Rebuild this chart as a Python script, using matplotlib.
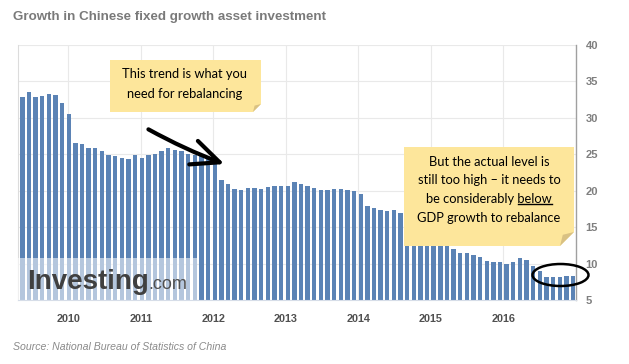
import matplotlib
matplotlib.use("Agg")
import matplotlib.pyplot as plt
from matplotlib.patches import Polygon, Ellipse, Rectangle
import numpy as np

# ---------------- data ----------------
v2009 = [32.9, 33.6, 32.9, 33.0, 33.3, 33.1, 32.1, 30.5]
v2010 = [26.6, 26.4, 25.8, 25.9, 25.5, 24.9, 24.8, 24.5, 24.4, 24.9, 24.5]
v2011 = [24.9, 25.0, 25.4, 25.8, 25.6, 25.4, 25.0, 24.9, 24.9, 24.5, 23.8]
v2012 = [21.5, 20.9, 20.2, 20.1, 20.4, 20.4, 20.2, 20.5, 20.7, 20.7, 20.6]
v2013 = [21.2, 20.9, 20.6, 20.4, 20.1, 20.1, 20.3, 20.2, 20.1, 19.9, 19.6]
v2014 = [17.9, 17.6, 17.3, 17.2, 17.3, 17.0, 16.5, 16.1, 15.9, 15.8, 15.7]
v2015 = [13.9, 13.5, 12.0, 11.4, 11.4, 11.2, 10.9, 10.3, 10.2, 10.2, 10.0]
v2016 = [10.2, 10.7, 10.5, 9.6, 9.0, 8.1, 8.1, 8.2, 8.3, 8.3]
values = v2009 + v2010 + v2011 + v2012 + v2013 + v2014 + v2015 + v2016
year_labels = ["2010", "2011", "2012", "2013", "2014", "2015", "2016"]
y_ticks = [5, 10, 15, 20, 25, 30, 35, 40]

title = "Growth in Chinese fixed growth asset investment"
source = "Source: National Bureau of Statistics of China"
note1_lines = ["This trend is what you", "need for rebalancing"]
note2_lines = ["But the actual level is", "still too high \u2013 it needs to",
               "be considerably below", "GDP growth to rebalance"]

# ---------------- figure ----------------
W, H = 629, 364
fig = plt.figure(figsize=(W / 100, H / 100), dpi=100)
fig.patch.set_facecolor("white")


def P(px, py):
    return (px / W, 1 - py / H)


ax = fig.add_axes([18 / W, 1 - 300 / H, 558 / W, 255 / H])
x = np.arange(len(values))
ax.bar(x, values, width=0.66, color="#5b83b5", zorder=2)
ax.set_xlim(-0.65, 83.45)
ax.set_ylim(5, 40)
ax.set_yticks(y_ticks)
ax.yaxis.tick_right()
year_pos = 6.94 + 10.93 * np.arange(len(year_labels))
ax.set_xticks(year_pos)
ax.set_xticklabels(year_labels)
ax.tick_params(axis="y", length=0, pad=7, labelsize=8, labelcolor="#7f7f7f")
ax.tick_params(axis="x", length=0, pad=10, labelsize=7.8, labelcolor="#505050")
for lab in ax.get_xticklabels() + ax.get_yticklabels():
    lab.set_fontweight("bold")
    lab.set_family("Liberation Sans")
ax.grid(True, color="#e9e9e9", lw=0.8, zorder=0)
ax.set_axisbelow(True)
ax.spines["top"].set_visible(False)
ax.spines["bottom"].set_color("#d6dde8")
ax.spines["left"].set_color("#dcdcdc")
ax.spines["right"].set_color("#a0a0a0")
ax.spines["right"].set_linewidth(1.0)

# watermark
wm = Rectangle(P(18, 300), 179 / W, 42 / H, transform=fig.transFigure,
               facecolor="white", alpha=0.55, edgecolor="none", zorder=3, clip_on=False)
ax.add_patch(wm)
inv = fig.text(*P(27, 289), "Investing", fontsize=20, fontweight="bold", color="#404040",
               family="Liberation Sans", va="baseline", ha="left", zorder=5)
fig.canvas.draw()
r = fig.canvas.get_renderer()
inv_bb = inv.get_window_extent(r)
fig.text(inv_bb.x1 / W, 1 - 289 / H, ".com", fontsize=13, color="#505050",
         family="Liberation Sans", va="baseline", ha="left", zorder=5)

# title and source
fig.text(*P(13, 17), title, fontsize=9.6, fontweight="bold", color="#7a7a7a",
         family="Liberation Sans", va="center", ha="left")
fig.text(*P(13, 347), source, fontsize=7.6, style="italic", color="#8a8a8a",
         family="Liberation Sans", va="center", ha="left")


def note(x0, y0, x1, y1, c):
    pts = [P(x0, y0), P(x1, y0), P(x1, y1 - c), P(x1 - c, y1), P(x0, y1)]
    ax.add_patch(Polygon(pts, closed=True, transform=fig.transFigure,
                         facecolor="#fde69b", edgecolor="none", zorder=6, clip_on=False))
    fold = [P(x1, y1 - c), P(x1 - c, y1), P(x1 - c * 0.8, y1 - c * 0.8)]
    ax.add_patch(Polygon(fold, closed=True, transform=fig.transFigure,
                         facecolor="#d9c183", edgecolor="none", zorder=7, clip_on=False))


note(110, 60, 261, 112, 8)
note(404, 147, 574, 246, 14)

hand = dict(family="Lato", fontsize=9.3, color="black", ha="center", va="center", zorder=8)
for i, line in enumerate(note1_lines):
    fig.text(*P(185, 74 + 20 * i), line, **hand)
texts2 = []
for i, line in enumerate(note2_lines):
    texts2.append(fig.text(*P(489, 162 + 18.5 * i), line, **hand))

# arrow
ax.annotate("", xy=P(227, 165), xytext=P(146, 128), xycoords="figure fraction",
            textcoords="figure fraction",
            arrowprops=dict(arrowstyle="->, head_length=1.0, head_width=0.45",
                            mutation_scale=20, lw=3, color="black",
                            connectionstyle="arc3,rad=0.04", capstyle="round"),
            zorder=9)

# ellipse
ax.add_patch(Ellipse(P(560.5, 275), 56 / W, 22 / H, transform=fig.transFigure,
                     facecolor="none", edgecolor="black", lw=1.8, zorder=9, clip_on=False))

# underline "below"
fig.canvas.draw()
r = fig.canvas.get_renderer()
t = texts2[2]
bb = t.get_window_extent(r)
tmp = fig.text(0, 0, "below", **hand)
wb = tmp.get_window_extent(r).width
tmp.remove()
yline = (bb.y0 + 1) / H
fig.add_artist(plt.Line2D([(bb.x1 - wb) / W, bb.x1 / W], [yline, yline],
                          transform=fig.transFigure, color="black", lw=1, zorder=9))

fig.savefig("out.png", dpi=100)
